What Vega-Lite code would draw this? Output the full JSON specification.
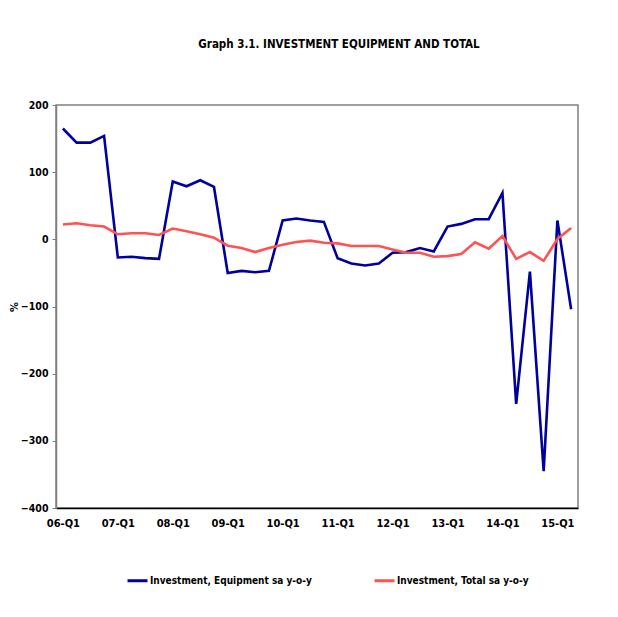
{
  "$schema": "https://vega.github.io/schema/vega-lite/v6.json",
  "width": 522,
  "height": 403,
  "autosize": {"type": "none"},
  "padding": {"left": 56, "top": 105, "right": 40, "bottom": 109},
  "background": "white",
  "config": {
    "font": "DejaVu Sans Condensed, Liberation Sans, sans-serif",
    "view": {"stroke": "#808080", "strokeWidth": 1.5}
  },
  "title": {
    "text": "Graph 3.1. INVESTMENT EQUIPMENT AND TOTAL",
    "font": "DejaVu Sans Condensed, Liberation Sans, sans-serif",
    "fontSize": 11.5,
    "fontWeight": "bold",
    "color": "#000000",
    "anchor": "middle",
    "offset": 50,
    "dx": 22
  },
  "datasets": {
    "series": [
      {"q": "06-Q1", "s": "Investment, Equipment sa y-o-y", "v": 165},
      {"q": "06-Q2", "s": "Investment, Equipment sa y-o-y", "v": 144},
      {"q": "06-Q3", "s": "Investment, Equipment sa y-o-y", "v": 144},
      {"q": "06-Q4", "s": "Investment, Equipment sa y-o-y", "v": 154},
      {"q": "07-Q1", "s": "Investment, Equipment sa y-o-y", "v": -27},
      {"q": "07-Q2", "s": "Investment, Equipment sa y-o-y", "v": -26},
      {"q": "07-Q3", "s": "Investment, Equipment sa y-o-y", "v": -28},
      {"q": "07-Q4", "s": "Investment, Equipment sa y-o-y", "v": -29},
      {"q": "08-Q1", "s": "Investment, Equipment sa y-o-y", "v": 86},
      {"q": "08-Q2", "s": "Investment, Equipment sa y-o-y", "v": 79},
      {"q": "08-Q3", "s": "Investment, Equipment sa y-o-y", "v": 88},
      {"q": "08-Q4", "s": "Investment, Equipment sa y-o-y", "v": 78},
      {"q": "09-Q1", "s": "Investment, Equipment sa y-o-y", "v": -50},
      {"q": "09-Q2", "s": "Investment, Equipment sa y-o-y", "v": -47},
      {"q": "09-Q3", "s": "Investment, Equipment sa y-o-y", "v": -49},
      {"q": "09-Q4", "s": "Investment, Equipment sa y-o-y", "v": -47},
      {"q": "10-Q1", "s": "Investment, Equipment sa y-o-y", "v": 28},
      {"q": "10-Q2", "s": "Investment, Equipment sa y-o-y", "v": 31},
      {"q": "10-Q3", "s": "Investment, Equipment sa y-o-y", "v": 28},
      {"q": "10-Q4", "s": "Investment, Equipment sa y-o-y", "v": 26},
      {"q": "11-Q1", "s": "Investment, Equipment sa y-o-y", "v": -28},
      {"q": "11-Q2", "s": "Investment, Equipment sa y-o-y", "v": -36},
      {"q": "11-Q3", "s": "Investment, Equipment sa y-o-y", "v": -39},
      {"q": "11-Q4", "s": "Investment, Equipment sa y-o-y", "v": -36},
      {"q": "12-Q1", "s": "Investment, Equipment sa y-o-y", "v": -20},
      {"q": "12-Q2", "s": "Investment, Equipment sa y-o-y", "v": -19},
      {"q": "12-Q3", "s": "Investment, Equipment sa y-o-y", "v": -13},
      {"q": "12-Q4", "s": "Investment, Equipment sa y-o-y", "v": -18},
      {"q": "13-Q1", "s": "Investment, Equipment sa y-o-y", "v": 19},
      {"q": "13-Q2", "s": "Investment, Equipment sa y-o-y", "v": 23},
      {"q": "13-Q3", "s": "Investment, Equipment sa y-o-y", "v": 30},
      {"q": "13-Q4", "s": "Investment, Equipment sa y-o-y", "v": 30},
      {"q": "14-Q1", "s": "Investment, Equipment sa y-o-y", "v": 69},
      {"q": "14-Q2", "s": "Investment, Equipment sa y-o-y", "v": -245},
      {"q": "14-Q3", "s": "Investment, Equipment sa y-o-y", "v": -48},
      {"q": "14-Q4", "s": "Investment, Equipment sa y-o-y", "v": -345},
      {"q": "15-Q1", "s": "Investment, Equipment sa y-o-y", "v": 28},
      {"q": "15-Q2", "s": "Investment, Equipment sa y-o-y", "v": -104},
      {"q": "06-Q1", "s": "Investment, Total sa y-o-y", "v": 22},
      {"q": "06-Q2", "s": "Investment, Total sa y-o-y", "v": 24},
      {"q": "06-Q3", "s": "Investment, Total sa y-o-y", "v": 21},
      {"q": "06-Q4", "s": "Investment, Total sa y-o-y", "v": 19},
      {"q": "07-Q1", "s": "Investment, Total sa y-o-y", "v": 7.5},
      {"q": "07-Q2", "s": "Investment, Total sa y-o-y", "v": 9},
      {"q": "07-Q3", "s": "Investment, Total sa y-o-y", "v": 9},
      {"q": "07-Q4", "s": "Investment, Total sa y-o-y", "v": 6.5},
      {"q": "08-Q1", "s": "Investment, Total sa y-o-y", "v": 16},
      {"q": "08-Q2", "s": "Investment, Total sa y-o-y", "v": 12},
      {"q": "08-Q3", "s": "Investment, Total sa y-o-y", "v": 7.5},
      {"q": "08-Q4", "s": "Investment, Total sa y-o-y", "v": 2.5},
      {"q": "09-Q1", "s": "Investment, Total sa y-o-y", "v": -9.5},
      {"q": "09-Q2", "s": "Investment, Total sa y-o-y", "v": -13},
      {"q": "09-Q3", "s": "Investment, Total sa y-o-y", "v": -19},
      {"q": "09-Q4", "s": "Investment, Total sa y-o-y", "v": -13},
      {"q": "10-Q1", "s": "Investment, Total sa y-o-y", "v": -8},
      {"q": "10-Q2", "s": "Investment, Total sa y-o-y", "v": -4},
      {"q": "10-Q3", "s": "Investment, Total sa y-o-y", "v": -2},
      {"q": "10-Q4", "s": "Investment, Total sa y-o-y", "v": -5},
      {"q": "11-Q1", "s": "Investment, Total sa y-o-y", "v": -6},
      {"q": "11-Q2", "s": "Investment, Total sa y-o-y", "v": -10},
      {"q": "11-Q3", "s": "Investment, Total sa y-o-y", "v": -10},
      {"q": "11-Q4", "s": "Investment, Total sa y-o-y", "v": -10},
      {"q": "12-Q1", "s": "Investment, Total sa y-o-y", "v": -15},
      {"q": "12-Q2", "s": "Investment, Total sa y-o-y", "v": -20},
      {"q": "12-Q3", "s": "Investment, Total sa y-o-y", "v": -20},
      {"q": "12-Q4", "s": "Investment, Total sa y-o-y", "v": -26},
      {"q": "13-Q1", "s": "Investment, Total sa y-o-y", "v": -25},
      {"q": "13-Q2", "s": "Investment, Total sa y-o-y", "v": -22},
      {"q": "13-Q3", "s": "Investment, Total sa y-o-y", "v": -4.5},
      {"q": "13-Q4", "s": "Investment, Total sa y-o-y", "v": -14},
      {"q": "14-Q1", "s": "Investment, Total sa y-o-y", "v": 5},
      {"q": "14-Q2", "s": "Investment, Total sa y-o-y", "v": -29},
      {"q": "14-Q3", "s": "Investment, Total sa y-o-y", "v": -19},
      {"q": "14-Q4", "s": "Investment, Total sa y-o-y", "v": -32},
      {"q": "15-Q1", "s": "Investment, Total sa y-o-y", "v": 0.5},
      {"q": "15-Q2", "s": "Investment, Total sa y-o-y", "v": 17}
    ]
  },
  "layer": [
    {
      "mark": {"type": "rule", "color": "#808080", "strokeWidth": 1.2},
      "encoding": {"y": {"datum": 0, "type": "quantitative", "scale": {"domain": [-400, 200]}}}
    },
    {
      "data": {"name": "series"},
      "mark": {"type": "line", "strokeWidth": 2.6, "strokeJoin": "miter"},
      "encoding": {
        "x": {
          "field": "q",
          "type": "ordinal",
          "sort": null,
          "scale": {"type": "point", "padding": 0.5},
          "axis": {
            "title": null,
            "values": ["06-Q1", "07-Q1", "08-Q1", "09-Q1", "10-Q1", "11-Q1", "12-Q1", "13-Q1", "14-Q1", "15-Q1"],
            "labelAngle": 0,
            "labelFontSize": 11,
            "labelFontWeight": "bold",
            "labelColor": "#000000",
            "labelPadding": 9,
            "ticks": false,
            "domainColor": "#000000",
            "domainWidth": 1.5
          }
        },
        "y": {
          "field": "v",
          "type": "quantitative",
          "scale": {"domain": [-400, 200], "nice": false},
          "axis": {
            "title": "%",
            "titleFontSize": 11,
            "titleFontWeight": "bold",
            "titleColor": "#000000",
            "titlePadding": 1,
            "values": [-400, -300, -200, -100, 0, 100, 200],
            "grid": false,
            "labelFontSize": 10.5,
            "labelFontWeight": "bold",
            "labelColor": "#000000",
            "labelPadding": 4,
            "tickColor": "#808080",
            "tickSize": 4,
            "domainColor": "#808080",
            "domainWidth": 1.5
          }
        },
        "color": {
          "field": "s",
          "type": "nominal",
          "scale": {
            "domain": ["Investment, Equipment sa y-o-y", "Investment, Total sa y-o-y"],
            "range": ["#00009C", "#FF5252"]
          },
          "legend": {
            "title": null,
            "orient": "none",
            "legendX": 70,
            "legendY": 464,
            "direction": "horizontal",
            "symbolType": "stroke",
            "symbolSize": 400,
            "symbolStrokeWidth": 3,
            "labelFontSize": 10,
            "labelFontWeight": "bold",
            "labelColor": "#000000",
            "labelOffset": 1,
            "labelLimit": 0,
            "columnPadding": 56
          }
        }
      }
    }
  ]
}
